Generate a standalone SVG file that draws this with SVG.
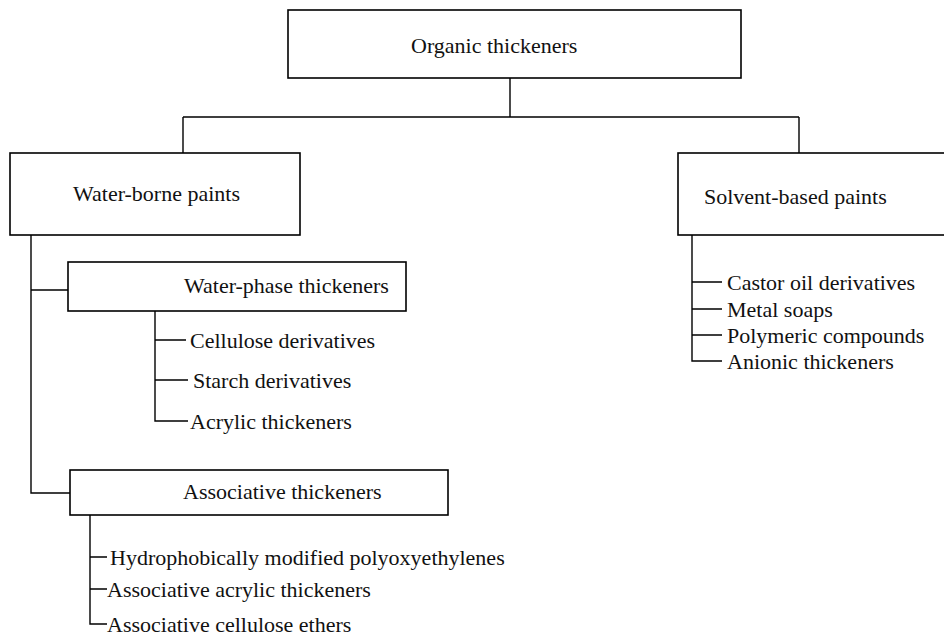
<svg xmlns="http://www.w3.org/2000/svg" width="944" height="640" viewBox="0 0 944 640">
<style>
.box{fill:#fff;stroke:#000;stroke-width:1.6}
.ln{fill:none;stroke:#000;stroke-width:1.4}
text{font-family:"Liberation Serif","Times New Roman",serif;font-size:22px;fill:#111;dominant-baseline:central}
</style>
<rect width="944" height="640" fill="#fff"/>
<g id="connectors">
<path class="ln" d="M510 78V117M183 117H799M183 117V153M799 117V153"/>
<path class="ln" d="M31 235V493H70M31 290H68"/>
<path class="ln" d="M155 311V421H188M155 340H186M155 380H188"/>
<path class="ln" d="M90 515V624H107M90 557H107M90 589H107"/>
<path class="ln" d="M692 235V361H722M692 282H722M692 309H722M692 335H722"/>
</g>
<g id="organic"><rect class="box" x="288" y="10" width="453" height="68"/><text x="411" y="45">Organic thickeners</text></g>
<g id="waterborne"><rect class="box" x="10" y="153" width="290" height="82"/><text x="73" y="193">Water-borne paints</text></g>
<g id="solvent"><rect class="box" x="678" y="153" width="280" height="82"/><text x="704" y="196">Solvent-based paints</text></g>
<g id="waterphase"><rect class="box" x="68" y="262" width="338" height="49"/><text x="184" y="285">Water-phase thickeners</text></g>
<g id="cellulose"><text x="190" y="340">Cellulose derivatives</text></g>
<g id="starch"><text x="193" y="380">Starch derivatives</text></g>
<g id="acrylic"><text x="190" y="421">Acrylic thickeners</text></g>
<g id="associative"><rect class="box" x="70" y="470" width="378" height="45"/><text x="183" y="491">Associative thickeners</text></g>
<g id="hmpe"><text x="110" y="557">Hydrophobically modified polyoxyethylenes</text></g>
<g id="assocacrylic"><text x="107" y="589">Associative acrylic thickeners</text></g>
<g id="assoccellulose"><text x="107" y="624">Associative cellulose ethers</text></g>
<g id="castor"><text x="727" y="282">Castor oil derivatives</text></g>
<g id="metal"><text x="727" y="309">Metal soaps</text></g>
<g id="polymeric"><text x="727" y="335">Polymeric compounds</text></g>
<g id="anionic"><text x="727" y="361">Anionic thickeners</text></g>
</svg>
